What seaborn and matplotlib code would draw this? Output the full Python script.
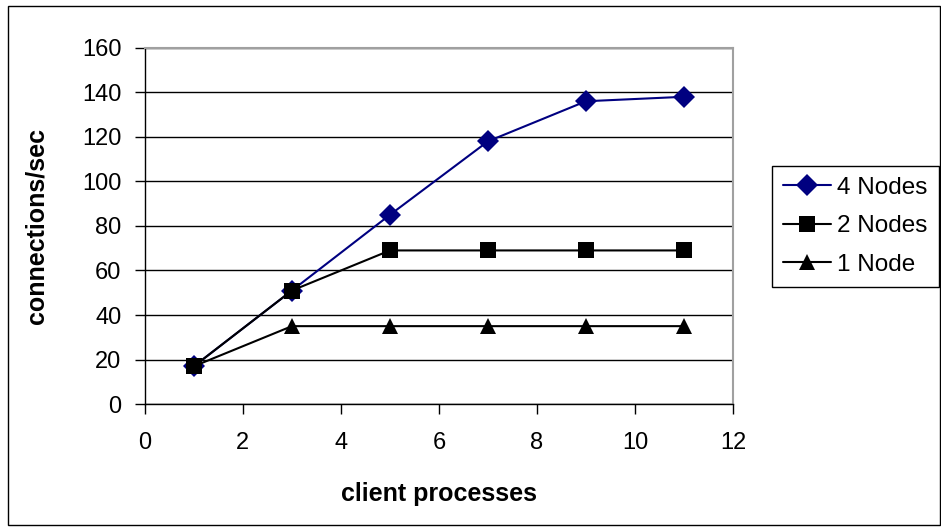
import pandas as pd
import matplotlib.pyplot as plt
import seaborn as sns
from matplotlib.patches import Rectangle

# values
clients = [1, 3, 5, 7, 9, 11]
nodes4 = [17, 51, 85, 118, 136, 138]
nodes2 = [17, 51, 69, 69, 69, 69]
nodes1 = [17, 35, 35, 35, 35, 35]
series = ['4 Nodes', '2 Nodes', '1 Node']

df = pd.DataFrame({
    'client processes': clients * 3,
    'connections/sec': nodes4 + nodes2 + nodes1,
    'series': [s for s in series for _ in clients],
})

sns.set_style('white')
plt.rcParams['font.family'] = ['Liberation Sans', 'DejaVu Sans']
plt.rcParams['text.color'] = 'black'
plt.rcParams['axes.labelcolor'] = 'black'
plt.rcParams['xtick.color'] = 'black'
plt.rcParams['ytick.color'] = 'black'

fig = plt.figure(figsize=(9.41, 5.31), dpi=100)
ax = fig.add_axes([0.154, 0.239, 0.625, 0.671])

sns.lineplot(data=df, x='client processes', y='connections/sec', hue='series', style='series',
             palette={'4 Nodes': '#000080', '2 Nodes': 'black', '1 Node': 'black'},
             markers={'4 Nodes': 'D', '2 Nodes': 's', '1 Node': '^'},
             dashes=False, markersize=11, linewidth=1.5, markeredgewidth=0, ax=ax)

ax.set_xlim(0, 12)
ax.set_ylim(0, 160)
ax.set_xticks(range(0, 13, 2))
ax.set_yticks(range(0, 161, 20))
ax.grid(axis='y', color='black', linewidth=1)
ax.set_axisbelow(True)
for side in ['left', 'bottom']:
    ax.spines[side].set_color('black')
    ax.spines[side].set_linewidth(1)
for side in ['top', 'right']:
    ax.spines[side].set_color('#a0a0a0')
    ax.spines[side].set_linewidth(1.5)
ax.tick_params(axis='both', bottom=True, left=True, direction='out', length=7, width=1,
               color='black', labelcolor='black', labelsize=17)
ax.tick_params(axis='x', pad=13)
ax.tick_params(axis='y', pad=10)
ax.set_xlabel('client processes', fontsize=18, fontweight='bold', labelpad=20)
ax.set_ylabel('connections/sec', fontsize=18, fontweight='bold', labelpad=24)

ax.legend(loc='center left', bbox_to_anchor=(0.82, 0.574), bbox_transform=fig.transFigure,
          fontsize=17.5, frameon=True, fancybox=False, edgecolor='black', framealpha=1,
          handlelength=2.0, handletextpad=0.25, borderpad=0.45, labelspacing=0.68,
          borderaxespad=0)
ax.get_legend().get_frame().set_linewidth(1)

fig.patches.append(Rectangle((0.009, 0.011), 0.99, 0.978, transform=fig.transFigure,
                             fill=False, edgecolor='black', linewidth=1))

fig.savefig('out.png', dpi=100)
